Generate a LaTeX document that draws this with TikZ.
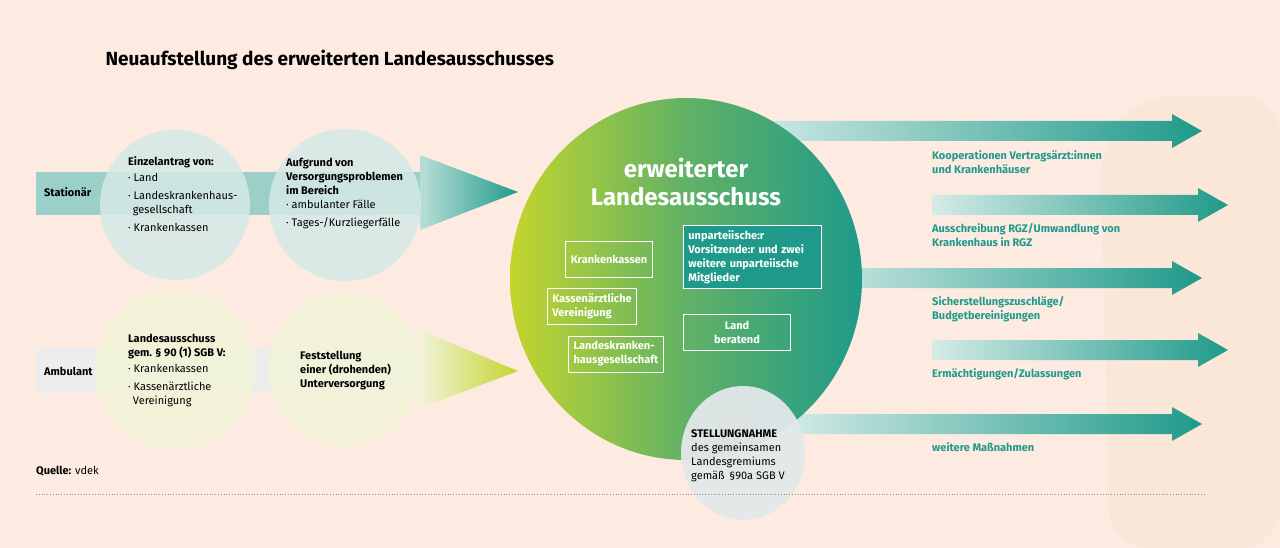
\documentclass[tikz,border=0pt]{standalone}
\usepackage{fontspec}
\setmainfont{Fira Sans}
\usetikzlibrary{positioning}
\definecolor{bg}{HTML}{FDEBE1}
\definecolor{beige}{HTML}{FAE3CC}
\definecolor{teal}{HTML}{1F9A8A}
\definecolor{lteal}{HTML}{B9DED7}
\definecolor{lime}{HTML}{C3D52E}
\definecolor{bluec}{HTML}{D5E9E6}
\definecolor{yelc}{HTML}{F2F3D8}
\definecolor{greyc}{HTML}{E4E8EA}
\tikzset{
  txt/.style={align=left,anchor=north west,inner sep=0pt,font=\fontsize{11}{14}\selectfont},
  btxt/.style={txt,font=\fontsize{11}{14}\selectfont\bfseries},
  lbl/.style={txt,text=teal,font=\fontsize{11}{14}\selectfont\bfseries},
  wbox/.style={draw=white,line width=0.8pt,text=white,align=left,inner sep=5pt,font=\fontsize{11}{14}\selectfont\bfseries},
}
\begin{document}
\begin{tikzpicture}[x=1pt,y=-1pt]
  \useasboundingbox (0,0) rectangle (1280,548);
  \fill[bg] (0,0) rectangle (1280,548);
  \fill[beige,opacity=0.45,rounded corners=40pt] (1140,95) -- (1280,95) -- (1280,548) -- (1110,548) -- (1100,140) -- cycle;
  \node[anchor=west,font=\fontsize{19}{22}\selectfont\bfseries] (title) at (102,60) {Neuaufstellung des erweiterten Landesausschusses};
  % stationaer
  \fill[lteal!80!teal] (36,172) rectangle (440,215);
  \shade[left color=lteal,right color=teal] (420,155) -- (518,192) -- (420,230) -- cycle;
  \fill[bluec,opacity=0.85] (175,205) circle[radius=75];
  \fill[bluec,opacity=0.85] (345,205) circle[radius=76];
  \node[btxt,anchor=west] (stat) at (44,192) {Stationär};
  \node[btxt] (ea) at (128,156) {Einzelantrag von:};
  \node[txt,below=5pt of ea.south west,anchor=north west] (ealist) {· Land\\[4pt]· Landeskrankenhaus-\\\ \,gesellschaft\\[4pt]· Krankenkassen};
  \node[btxt] (auf) at (286,158) {Aufgrund von\\Versorgungsproblemen\\im Bereich};
  \node[txt,below=5pt of auf.south west,anchor=north west] (auflist) {· ambulanter Fälle\\[4pt]· Tages-/Kurzliegerfälle};
  % ambulant
  \fill[black!7] (36,348) rectangle (440,393);
  \shade[left color=yelc,right color=lime] (420,330) -- (518,371) -- (420,408) -- cycle;
  \fill[yelc,opacity=0.9] (175,370) circle[radius=80];
  \fill[yelc,opacity=0.9] (345,370) circle[radius=77];
  \node[btxt,anchor=west] (amb) at (44,371) {Ambulant};
  \node[btxt] (la) at (128,334) {Landesausschuss\\gem. § 90 (1) SGB V:};
  \node[txt,below=5pt of la.south west,anchor=north west] (lalist) {· Krankenkassen\\[4pt]· Kassenärztliche\\\ \,Vereinigung};
  \node[btxt,anchor=west] (fest) at (300,371) {Feststellung\\einer (drohenden)\\Unterversorgung};
  % right arrows
  \foreach \y/\xs/\xt in {131/740/1202,205/932/1228,278/800/1202,350/932/1228,424/780/1202}{
    \shade[left color=lteal!60,right color=teal] (\xs,\y-10) -- (\xt-30,\y-10) -- (\xt-30,\y-17) -- (\xt,\y) -- (\xt-30,\y+17) -- (\xt-30,\y+10) -- (\xs,\y+10) -- cycle;
  }
  % big ellipse
  \shade[left color=lime,right color=teal,middle color=teal!60!lime] (686,279) ellipse[x radius=176,y radius=181];
  \node[font=\fontsize{24}{28}\selectfont\bfseries,text=white,align=center] (ela) at (686,182) {erweiterter\\Landesausschuss};
  \node[wbox,minimum width=76pt,minimum height=36pt,align=center] (kk) at (609,259) {Krankenkassen};
  \node[wbox,minimum width=72pt,minimum height=36pt] (kv) at (592,306) {Kassenärztliche\\Vereinigung};
  \node[wbox,minimum width=72pt,minimum height=36pt] (lkg) at (616,354) {Landeskranken-\\hausgesellschaft};
  \node[wbox,fill=teal,anchor=north west,text width=128pt] (unp) at (683,225) {unparteiische:r\\Vorsitzende:r und zwei\\weitere unparteiische\\Mitglieder};
  \node[wbox,minimum width=107pt,minimum height=36pt,align=center] (land) at (737,332) {Land\\beratend};
  % stellungnahme
  \fill[greyc,opacity=0.95] (743,453) ellipse[x radius=62,y radius=67];
  \node[txt,anchor=north west] (st) at (691,429) {\textbf{STELLUNGNAHME}\\des gemeinsamen\\Landesgremiums\\gemäß \,§90a SGB V};
  % labels
  \node[lbl] (l1) at (932,150) {Kooperationen Vertragsärzt:innen\\und Krankenhäuser};
  \node[lbl] (l2) at (932,223) {Ausschreibung RGZ/Umwandlung von\\Krankenhaus in RGZ};
  \node[lbl] (l3) at (932,296) {Sicherstellungszuschläge/\\Budgetbereinigungen};
  \node[lbl] (l4) at (932,368) {Ermächtigungen/Zulassungen};
  \node[lbl] (l5) at (932,442) {weitere Maßnahmen};
  \node[txt,anchor=west] (src) at (36,471) {\textbf{Quelle:} vdek};
  \draw[black!45,dotted,line width=0.8pt] (36,494) -- (1205,494);
\end{tikzpicture}
\end{document}
